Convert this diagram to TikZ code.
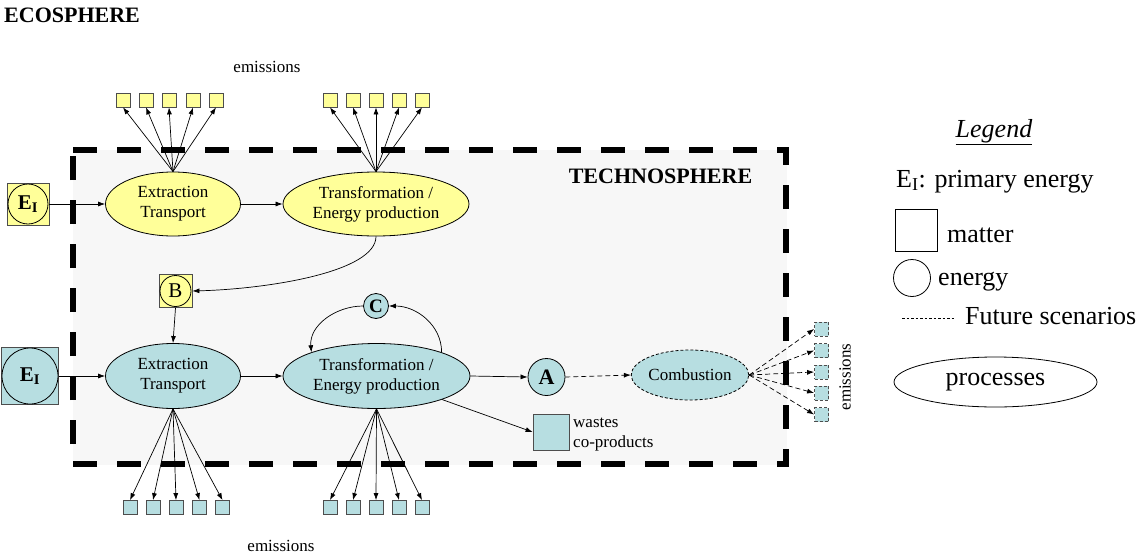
\documentclass[tikz,border=0pt]{standalone}
\usepackage{fontspec}
\setmainfont{Liberation Serif}
\usetikzlibrary{shapes.geometric,arrows.meta}
\definecolor{yel}{HTML}{FFFF99}
\definecolor{blu}{HTML}{B7DEE1}
\definecolor{sqd}{HTML}{4D4D4D}
\definecolor{techbg}{HTML}{F7F7F7}
\begin{document}
\begin{tikzpicture}[x=1pt,y=-1pt,
  proc/.style={ellipse,draw,line width=0.8pt,inner sep=0pt,align=center,font=\fontsize{17}{20}\selectfont},
  emsq/.style={rectangle,draw=sqd,line width=0.8pt,minimum size=14pt,inner sep=0pt},
  matsq/.style={rectangle,draw=sqd,line width=0.8pt,inner sep=0pt},
  encirc/.style={circle,draw,line width=0.8pt,inner sep=0pt},
  arr/.style={-{Latex[length=7pt,width=5pt]},line width=0.7pt},
  futarr/.style={arr,dash pattern=on 5pt off 3pt},
  futborder/.style={dash pattern=on 3pt off 2pt},
  txt/.style={font=\fontsize{17}{20}\selectfont,inner sep=0pt},
  lgd/.style={font=\fontsize{26}{30}\selectfont,inner sep=0pt},
  title/.style={font=\fontsize{22}{26}\selectfont\bfseries,inner sep=0pt}]
\useasboundingbox (0,0) rectangle (1142,554);

% technosphere box
\fill[techbg] (73,150) rectangle (787,465);
\draw[line width=5.5pt,dash pattern=on 24pt off 20pt] (73,150) -- (786,150) -- (786,464) -- (73,464) -- cycle;

\node[title,anchor=base west] (eco) at (4,22.5) {ECOSPHERE};
\node[title,anchor=base] (tech) at (660.5,183) {TECHNOSPHERE};

% ---------- yellow row
\node[matsq,fill=yel,minimum size=42pt] (eiy) at (28,204) {};
\node[encirc,minimum size=40pt] (eiyc) at (28,204) {\fontsize{21}{21}\selectfont\bfseries E\textsubscript{I}};
\node[proc,fill=yel,minimum width=135pt,minimum height=64pt] (ey) at (173,204) {Extraction\\Transport};
\node[proc,fill=yel,minimum width=186pt,minimum height=64pt] (ty) at (376,204) {Transformation /\\Energy production};

\foreach \x [count=\i] in {123,146,169,193,216}
  \node[emsq,fill=yel] (yea\i) at (\x,100) {};
\foreach \x [count=\i] in {330,353,376,399,422}
  \node[emsq,fill=yel] (yeb\i) at (\x,100) {};
\foreach \i in {1,...,5} {
  \draw[arr] (ey.north) -- (yea\i.south);
  \draw[arr] (ty.north) -- (yeb\i.south);
}
\node[txt] (emtop) at (267,67) {emissions};

\draw[arr] (eiy.east) -- (ey.west);
\draw[arr] (ey.east) -- (ty.west);

% B
\node[matsq,fill=yel,minimum size=33pt] (bsq) at (175.5,291) {};
\node[encirc,minimum size=31pt] (bc) at (175.5,291) {\fontsize{21}{21}\selectfont B};
\draw[arr] (ty.south) .. controls (376,272) and (268,289) .. (bsq.east);

% ---------- blue row
\node[matsq,fill=blu,minimum size=57pt] (eib) at (30,376) {};
\node[encirc,minimum size=56pt] (eibc) at (30,376) {\fontsize{21}{21}\selectfont\bfseries E\textsubscript{I}};
\node[proc,fill=blu,minimum width=135pt,minimum height=65pt] (eb) at (173,376) {Extraction\\Transport};
\node[proc,fill=blu,minimum width=187pt,minimum height=65pt] (tb) at (376.5,376) {Transformation /\\Energy production};

\draw[arr] (bsq.south) -- (eb.north);
\draw[arr] (eib.east) -- (eb.west);
\draw[arr] (eb.east) -- (tb.west);

\node[encirc,fill=blu,minimum size=25pt] (cc) at (376,306) {\fontsize{19}{19}\selectfont\bfseries C};
\draw[arr] (tb.20) to[out=90,in=0] (cc.east);
\draw[arr] (cc.west) to[out=180,in=95] (tb.160);

\node[encirc,fill=blu,minimum size=37pt] (ac) at (546.5,377) {\fontsize{22}{22}\selectfont\bfseries A};
\draw[arr] (tb.east) -- (ac.west);

\node[proc,fill=blu,futborder,minimum width=114pt,minimum height=50pt] (comb) at (690,375) {Combustion};
\draw[futarr] (ac.east) -- (comb.west);

\node[matsq,fill=blu,minimum size=36pt] (ws) at (551,432) {};
\node[txt,anchor=west,align=left] (wstxt) at (573,435) {wastes\\co-products};
\draw[arr] (tb) -- (ws.west);

\foreach \x [count=\i] in {130,153,176,199.5,222.5}
  \node[emsq,fill=blu] (bea\i) at (\x,507.5) {};
\foreach \x [count=\i] in {330,353,376,399,422}
  \node[emsq,fill=blu] (beb\i) at (\x,507.5) {};
\foreach \i in {1,...,5} {
  \draw[arr] (eb.south) -- (bea\i.north);
  \draw[arr] (tb.south) -- (beb\i.north);
}
\node[txt] (embot) at (281,546) {emissions};

\foreach \y [count=\i] in {329,350.5,372,393,414.5}
  \node[emsq,fill=blu,futborder] (ce\i) at (821.5,\y) {};
\foreach \i in {1,...,5}
  \draw[futarr] (comb.east) -- (ce\i.west);
\node[txt,rotate=90] (emright) at (845,377) {emissions};

% ---------- legend
\node[lgd,anchor=base] (lgtitle) at (994,137) {\underline{\textit{Legend}}};
\node[lgd,anchor=base west] (lgei) at (896,187) {E\textsubscript{I}: primary energy};
\node[rectangle,draw,line width=0.8pt,minimum width=42pt,minimum height=42pt,inner sep=0pt] (lgsq) at (916,230) {};
\node[lgd,anchor=base west] (lgmat) at (947,242) {matter};
\node[circle,draw,line width=0.8pt,minimum size=37pt,inner sep=0pt] (lgc) at (912,278) {};
\node[lgd,anchor=base west] (lgen) at (938,285) {energy};
\coordinate (dl1) at (902,318);
\coordinate (dl2) at (955,318);
\draw[line width=0.7pt,dash pattern=on 2.5pt off 2pt] (dl1) -- (dl2);
\node[lgd,anchor=base west] (lgfut) at (965,324) {Future scenarios};
\node[ellipse,draw,line width=0.8pt,minimum width=203pt,minimum height=50pt,inner sep=0pt,lgd] (lgproc) at (995.5,382) {processes};
\end{tikzpicture}
\end{document}
